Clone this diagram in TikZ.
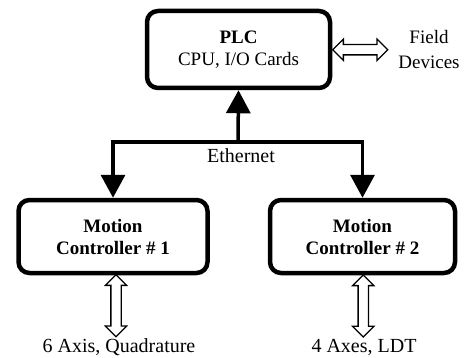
\documentclass[tikz,border=0pt]{standalone}
\usepackage{fontspec}
\setmainfont{Liberation Serif}
\usetikzlibrary{arrows.meta,shapes.arrows}
\tikzset{
  box/.style={draw, line width=4.5pt, rounded corners=11pt, align=center, inner sep=0pt},
  link/.style={line width=3.5pt, -{Triangle[length=23pt,width=24pt]}},
  dblarrow/.style={draw, double arrow, line width=1.3pt, inner sep=4.5pt,
    double arrow head extend=5.5pt, double arrow head indent=0pt, minimum height=#1},
  lbl/.style={align=center, inner sep=2pt, font=\fontsize{20}{22}\selectfont}
}

\begin{document}
\begin{tikzpicture}[x=1pt, y=-1pt, font=\fontsize{19}{22}\selectfont]
		%%%%% START %%%%%
		\useasboundingbox (0, 0) rectangle (465, 358);
		
		\node[box, minimum width=183pt, minimum height=77pt] (plc) at (238.5, 49.5)
			{\textbf{PLC}\\CPU, I/O Cards};
		\node[lbl, font=\fontsize{19}{25}\selectfont] (field) at (429, 50) {Field\\Devices};
		\path (plc.east) -- (field.west) node[midway, xshift=-4pt, dblarrow=55pt] (fio) {};
		
		\node[box, minimum width=189pt, minimum height=73pt] (mc1) at (113, 236.5)
			{\textbf{Motion}\\\textbf{Controller \# 1}};
		\node[box, minimum width=185pt, minimum height=73pt] (mc2) at (362.5, 236.5)
			{\textbf{Motion}\\\textbf{Controller \# 2}};
		
		\coordinate (bus) at (238, 142);
		\draw[link] (bus) -- (plc.south);
		\draw[link] (bus) -| (mc1.north);
		\draw[link] (bus) -| (mc2.north);
		\node[lbl] (eth) at (241, 156) {Ethernet};
		
		\node[lbl] (ax1) at (119, 347) {6 Axis, Quadrature};
		\node[lbl] (ax2) at (364, 347) {4 Axes, LDT};
		\path (mc1.south) -- (ax1.north) node[midway, rotate=90, dblarrow=62pt] (io1) {};
		\path (mc2.south) -- (ax2.north) node[midway, rotate=90, dblarrow=62pt] (io2) {};
		%%%%% END %%%%%
\end{tikzpicture}
\end{document}
